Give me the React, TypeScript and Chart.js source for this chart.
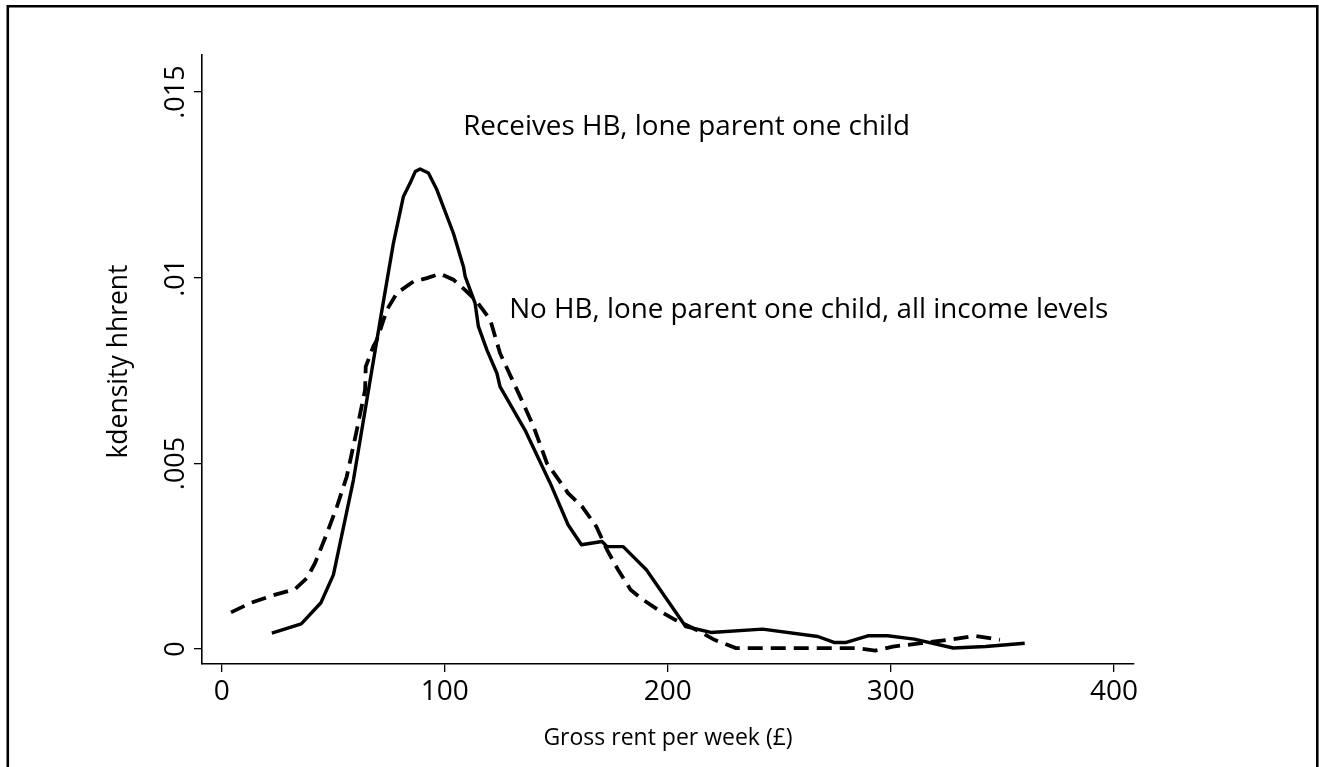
import React, { useEffect, useRef } from "react";
import { Chart, registerables } from "chart.js";

Chart.register(...registerables);

// Receives HB, lone parent one child (solid)
const hbRent = [22.5, 35.7, 44.5, 50.1, 59.1, 71.1, 77, 81.5, 84.5, 86.8, 89, 92.7, 96.5, 103.9, 108.4, 109.2, 113.6, 115.1, 118.9, 123.4, 124.8, 136, 147.3, 155.3, 161.3, 170.5, 172.8, 180, 190.4, 208, 219.3, 242.5, 267.3, 274.5, 280, 289.7, 298.5, 310.5, 328, 342.5, 360];
const hbDensity = [0.00043, 0.00068, 0.00125, 0.002, 0.00456, 0.00886, 0.01093, 0.01219, 0.01255, 0.01286, 0.01293, 0.01282, 0.01237, 0.0112, 0.0103, 0.01003, 0.00932, 0.00869, 0.00806, 0.00743, 0.00707, 0.0059, 0.00447, 0.00335, 0.00281, 0.0029, 0.00276, 0.00276, 0.00214, 0.00061, 0.00045, 0.00054, 0.00034, 0.00018, 0.00018, 0.00036, 0.00036, 0.00027, 0.00003, 0.00007, 0.00016];

// No HB, lone parent one child, all income levels (dashed)
const noHbRent = [4.2, 12.8, 22.5, 33, 38.2, 41.9, 47.2, 51.7, 56.1, 60.6, 64.3, 64.6, 68, 69.6, 74.1, 78.6, 86, 92, 98, 103.9, 109.9, 114.4, 120.4, 124.8, 133.8, 139.8, 145.8, 155.3, 161.6, 168, 172.8, 177.7, 183.3, 188.9, 196.9, 203.3, 214.5, 220.9, 230.5, 284.9, 292.9, 300.9, 313.7, 328.1, 337.7, 348.9];
const noHbDensity = [0.00099, 0.00124, 0.00144, 0.00162, 0.00191, 0.00232, 0.00312, 0.00384, 0.00465, 0.0059, 0.00698, 0.00761, 0.00815, 0.00833, 0.00914, 0.00959, 0.0099, 0.00999, 0.01011, 0.00995, 0.00963, 0.00936, 0.00887, 0.00797, 0.0068, 0.006, 0.00501, 0.0042, 0.00384, 0.0033, 0.00267, 0.00214, 0.0016, 0.00133, 0.00101, 0.00079, 0.00047, 0.00025, 0.00003, 0.00003, -0.00004, 0.00007, 0.00016, 0.00027, 0.00036, 0.00025];

const xTickValues = [0, 100, 200, 300, 400];
const xTickLabels = ["0", "100", "200", "300", "400"];
const yTickValues = [0, 0.005, 0.01, 0.015];
const yTickLabels = ["0", ".005", ".01", ".015"];

const xAxisTitle = "Gross rent per week (£)";
const yAxisTitle = "kdensity hhrent";

const labelTexts = ["Receives HB, lone parent one child", "No HB, lone parent one child, all income levels"];
const labelRent = [108.3, 128.9];
const labelDensity = [0.01407, 0.00914];

const FONT = "'Open Sans', 'Noto Sans', sans-serif";

export default function App() {
  const ref = useRef<HTMLCanvasElement | null>(null);

  useEffect(() => {
    const canvas = ref.current;
    if (!canvas) return;

    const overlay = {
      id: "overlay",
      afterDraw(chart: any) {
        const ctx = chart.ctx;
        const xs = chart.scales.x;
        const ys = chart.scales.y;
        const area = chart.chartArea;
        ctx.save();
        // outer frame
        ctx.strokeStyle = "#000";
        ctx.lineWidth = 2.6;
        ctx.beginPath();
        ctx.moveTo(7.8, 800);
        ctx.lineTo(7.8, 6.2);
        ctx.lineTo(1317.3, 6.2);
        ctx.lineTo(1317.3, 800);
        ctx.stroke();

        ctx.fillStyle = "#000";
        // y tick labels (rotated)
        ctx.font = `27px ${FONT}`;
        ctx.textAlign = "center";
        ctx.textBaseline = "alphabetic";
        yTickValues.forEach((v, i) => {
          const py = ys.getPixelForValue(v);
          ctx.save();
          ctx.translate(area.left - 18, py);
          ctx.rotate(-Math.PI / 2);
          ctx.fillText(yTickLabels[i], 0, 0);
          ctx.restore();
        });

        // y axis title
        ctx.font = `26.5px ${FONT}`;
        ctx.save();
        ctx.translate(127, (area.top + area.bottom) / 2 + 2);
        ctx.rotate(-Math.PI / 2);
        ctx.fillText(yAxisTitle, 0, 0);
        ctx.restore();

        // x axis title
        ctx.font = `23px ${FONT}`;
        ctx.fillText(xAxisTitle, (area.left + area.right) / 2, 745);

        // curve labels
        ctx.font = `27.8px ${FONT}`;
        ctx.textAlign = "left";
        ctx.textBaseline = "middle";
        labelTexts.forEach((t, i) => {
          ctx.fillText(t, xs.getPixelForValue(labelRent[i]), ys.getPixelForValue(labelDensity[i]));
        });
        ctx.restore();
      },
    };

    const chart = new Chart(canvas, {
      type: "line",
      data: {
        datasets: [
          {
            label: labelTexts[0],
            data: hbRent.map((x, i) => ({ x, y: hbDensity[i] })),
            borderColor: "#000",
            borderWidth: 3.4,
            pointRadius: 0,
            tension: 0,
            fill: false,
            borderJoinStyle: "round",
          },
          {
            label: labelTexts[1],
            data: noHbRent.map((x, i) => ({ x, y: noHbDensity[i] })),
            borderColor: "#000",
            borderWidth: 3.8,
            borderDash: [15, 8],
            borderCapStyle: "butt",
            pointRadius: 0,
            tension: 0,
            fill: false,
          },
        ],
      },
      options: {
        animation: false,
        responsive: false,
        devicePixelRatio: 1,
        layout: { padding: { top: 55, right: 185, left: 0, bottom: 0 } },
        plugins: { legend: { display: false }, tooltip: { enabled: false }, title: { display: false } },
        scales: {
          x: {
            type: "linear",
            min: -8.8,
            max: 409,
            afterBuildTicks: (s: any) => {
              s.ticks = xTickValues.map((v) => ({ value: v }));
            },
            afterFit: (s: any) => {
              s.height = 103;
            },
            ticks: {
              color: "#000",
              font: { family: FONT, size: 28 },
              padding: 3,
              maxRotation: 0,
              autoSkip: false,
              callback: (v: any) => {
                const i = xTickValues.indexOf(Number(v));
                return i >= 0 ? xTickLabels[i] : "";
              },
            },
            grid: { display: true, drawOnChartArea: false, drawTicks: true, tickLength: 8, color: "#000", lineWidth: 1.3 },
            border: { display: true, color: "#000", width: 1.6 },
          },
          y: {
            type: "linear",
            min: -0.0004,
            max: 0.016,
            afterBuildTicks: (s: any) => {
              s.ticks = yTickValues.map((v) => ({ value: v }));
            },
            afterFit: (s: any) => {
              s.width = 202;
            },
            ticks: { display: false },
            grid: { display: true, drawOnChartArea: false, drawTicks: true, tickLength: 8, color: "#000", lineWidth: 1.3 },
            border: { display: true, color: "#000", width: 1.6 },
          },
        },
      },
      plugins: [overlay],
    } as any);

    return () => chart.destroy();
  }, []);

  return (
    <div style={{ position: "absolute", left: 0, top: 0, width: 1319, height: 767, background: "#fff" }}>
      <canvas ref={ref} width={1319} height={767} style={{ display: "block" }} />
    </div>
  );
}
